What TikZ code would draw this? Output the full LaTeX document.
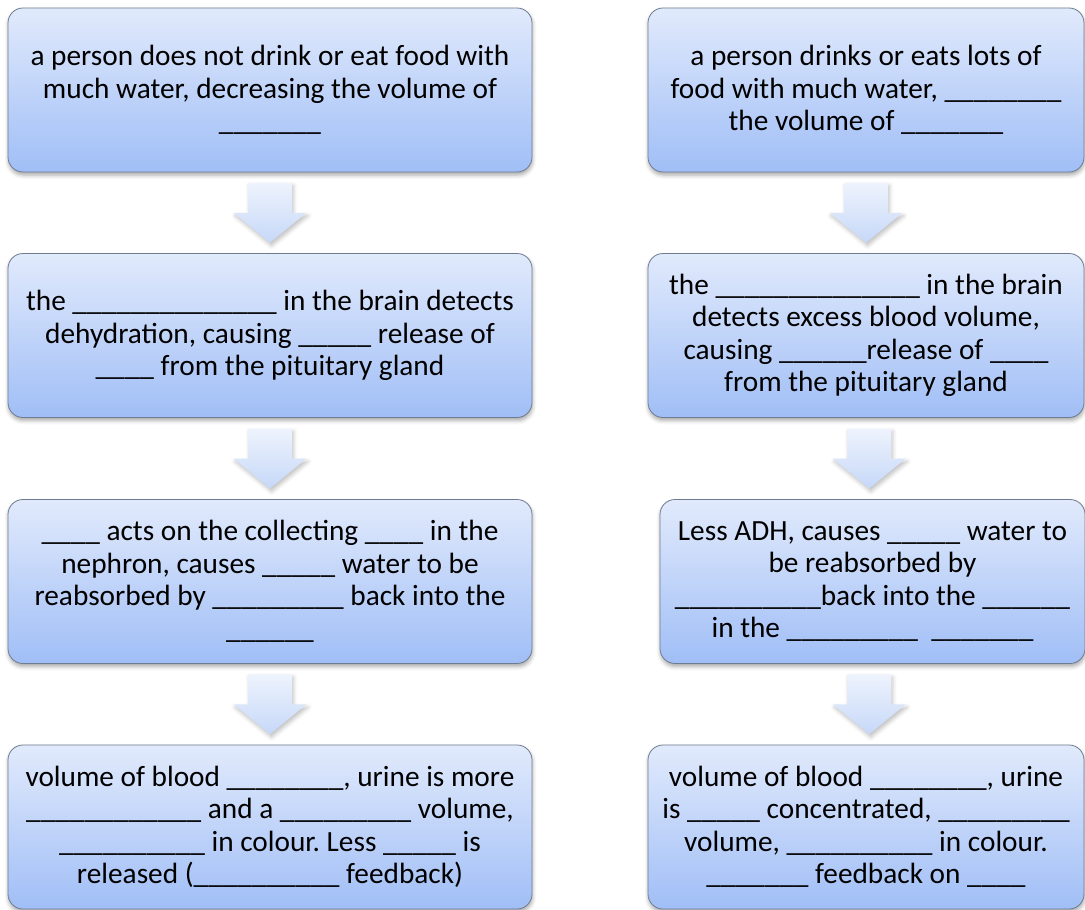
\documentclass[tikz,border=0pt]{standalone}
\usepackage{fontspec}
\setmainfont{Carlito}
\usetikzlibrary{shadows.blur,calc}
\definecolor{boxtop}{HTML}{E1EAFC}
\definecolor{boxbot}{HTML}{A0BEF6}
\definecolor{boxline}{HTML}{6E7C92}
\definecolor{arrtop}{HTML}{EEF3FD}
\definecolor{arrbot}{HTML}{C6D8F8}
\ExplSyntaxOn
\cs_new:Npn \bl #1 { \prg_replicate:nn {#1} {\_} }
\ExplSyntaxOff
\frenchspacing
\tikzset{
  box/.style={draw=boxline, line width=0.8pt, rounded corners=15pt,
    top color=boxtop, bottom color=boxbot,
    blur shadow={shadow xshift=0.5pt, shadow yshift=-3pt, shadow blur radius=4pt, shadow opacity=35},
    minimum height=164pt, align=center, inner sep=0pt,
    font=\fontsize{29.3}{32.5}\selectfont},
  arrowfill/.style={top color=arrtop, bottom color=arrbot,
    blur shadow={shadow xshift=1.5pt, shadow yshift=-3pt, shadow blur radius=4pt, shadow opacity=25}}
}
\begin{document}
\begin{tikzpicture}[x=1pt,y=-1pt]
\useasboundingbox (0,0) rectangle (1085,910);
% left column
\node[box, minimum width=524pt] (L1) at (270,90)
  {a person does not drink or eat food with\\much water, decreasing the volume of\\\bl{7}};
\node[box, minimum width=524pt] (L2) at (270,335.5)
  {the \bl{14} in the brain detects\\dehydration, causing \bl{5} release of\\\bl{4} from the pituitary gland};
\node[box, minimum width=524pt] (L3) at (270,581.5)
  {\bl{4} acts on the collecting \bl{4} in the\\nephron, causes \bl{5} water to be\\reabsorbed by \bl{9} back into the\\\bl{6}};
\node[box, minimum width=524pt] (L4) at (270,827)
  {volume of blood \bl{8}, urine is more\\\bl{12} and a \bl{9} volume,\\\bl{10} in colour. Less \bl{5} is\\released (\bl{10} feedback)};
% right column
\node[box, minimum width=436pt] (R1) at (866,90)
  {a person drinks or eats lots of\\food with much water, \bl{8}\\the volume of \bl{7}};
\node[box, minimum width=436pt] (R2) at (866,335.5)
  {the \bl{14} in the brain\\detects excess blood volume,\\causing \bl{6}release of \bl{4}\\from the pituitary gland};
\node[box, minimum width=425pt] (R3) at (872.5,581.5)
  {Less ADH, causes \bl{5} water to\\be reabsorbed by\\\bl{10}back into the \bl{6}\\in the \bl{9}\ \ \bl{7}};
\node[box, minimum width=436pt] (R4) at (866,827)
  {volume of blood \bl{8}, urine\\is \bl{5} concentrated, \bl{9}\\volume, \bl{10} in colour.\\\bl{7} feedback on \bl{4}};
% block arrows
\foreach \a/\b in {L1/L2, L2/L3, L3/L4, R1/R2, R2/R3, R3/R4} {
  \begin{scope}[shift={($(\a.south)!0.5!(\b.north)$)}]
    \shade[arrowfill] (-22,-30) -- (22,-30) -- (22,0) -- (36.5,0) -- (0,30) -- (-36.5,0) -- (-22,0) -- cycle;
  \end{scope}
}
\end{tikzpicture}
\end{document}
